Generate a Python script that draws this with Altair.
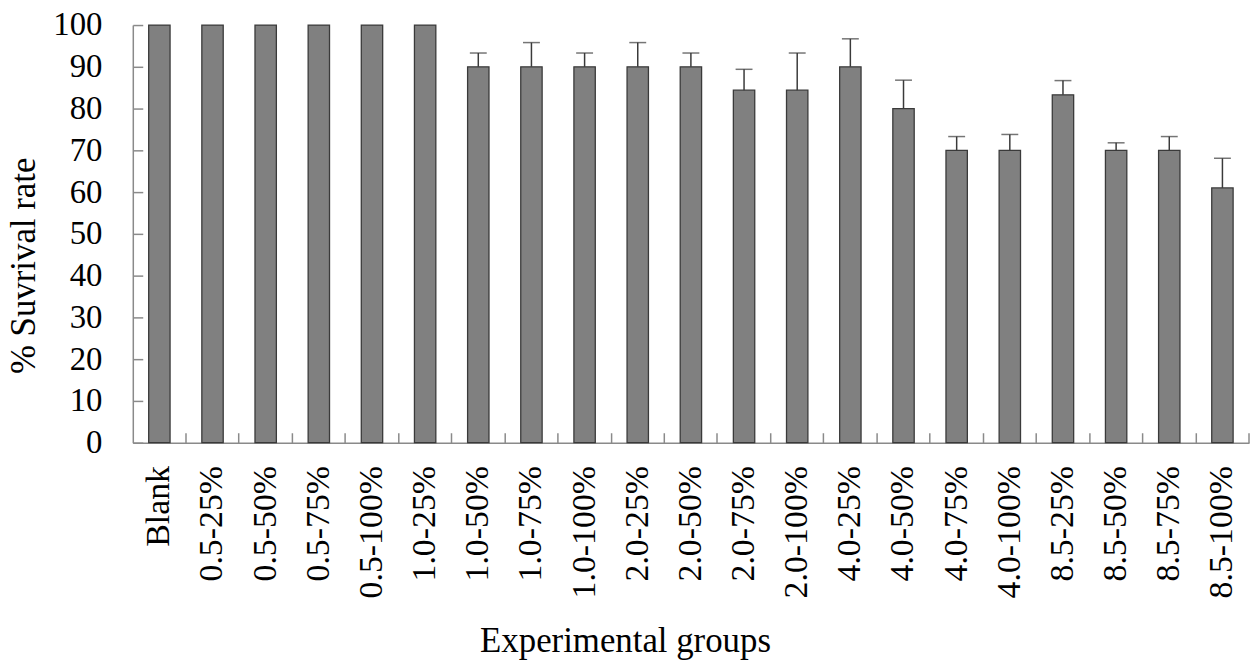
import altair as alt
import pandas as pd

groups = ["Blank", "0.5-25%", "0.5-50%", "0.5-75%", "0.5-100%", "1.0-25%",
          "1.0-50%", "1.0-75%", "1.0-100%", "2.0-25%", "2.0-50%", "2.0-75%",
          "2.0-100%", "4.0-25%", "4.0-50%", "4.0-75%", "4.0-100%", "8.5-25%",
          "8.5-50%", "8.5-75%", "8.5-100%"]
survival = [100, 100, 100, 100, 100, 100, 90, 90, 90, 90, 90, 84.4, 84.4,
            90, 80, 70, 70, 83.3, 70, 70, 61]
upper = [None, None, None, None, None, None, 93.3, 95.8, 93.3, 95.8, 93.3,
         89.4, 93.3, 96.7, 86.8, 73.3, 73.8, 86.7, 71.8, 73.3, 68.1]
y_ticks = [0, 10, 20, 30, 40, 50, 60, 70, 80, 90, 100]

df = pd.DataFrame({"group": groups, "survival": survival, "upper": upper})
err = df.dropna(subset=["upper"])

W, H = 1122.5, 420
FONT = "Liberation Serif"
AXIS_GRAY = "#8a8a8a"

xscale = alt.Scale(paddingInner=0, paddingOuter=0)
yscale = alt.Scale(domain=[0, 100], nice=False, zero=True)

bars = alt.Chart(df).mark_bar(size=21.5, color="#808080", stroke="#3a3a3a", strokeWidth=1.3).encode(
    x=alt.X("group:N", sort=groups, scale=xscale,
            axis=alt.Axis(orient="bottom", ticks=False, domainColor=AXIS_GRAY, domainWidth=1.5,
                          labelAngle=-90, labelAlign="right", labelBaseline="middle",
                          labelFont=FONT, labelFontSize=34, labelPadding=23, labelColor="black",
                          title="Experimental groups", titleFont=FONT, titleFontSize=35,
                          titleFontWeight="normal", titleColor="black",
                          titleX=495, titleY=209.7, titleBaseline="alphabetic", titleAlign="center",
                          grid=False)),
    y=alt.Y("survival:Q", scale=yscale,
            axis=alt.Axis(orient="left", ticks=False, domainColor=AXIS_GRAY, domainWidth=1.5,
                          values=y_ticks, labelFont=FONT, labelFontSize=33, labelPadding=31,
                          labelColor="black",
                          title="% Suvrival rate", titleFont=FONT, titleFontSize=35,
                          titleFontWeight="normal", titleColor="black",
                          titleX=-98.5, titleY=241.7, titleAngle=270, titleBaseline="alphabetic",
                          titleAlign="center", grid=False)),
)

rules = alt.Chart(err).mark_rule(color="#3a3a3a", strokeWidth=1.5).encode(
    x=alt.X("group:N", sort=groups, scale=xscale,
            axis=alt.Axis(orient="top", offset=-H, bandPosition=1, labels=False, domain=False,
                          tickSize=10, tickColor=AXIS_GRAY, tickWidth=1.5, title=None, grid=False)),
    y=alt.Y("survival:Q", scale=yscale,
            axis=alt.Axis(orient="right", offset=-W, values=y_ticks, labels=False, domain=False,
                          tickSize=10, tickColor=AXIS_GRAY, tickWidth=1.5, title=None, grid=False)),
    y2="upper:Q",
)

caps = alt.Chart(err).mark_tick(color="#3a3a3a", size=17, thickness=1.5).encode(
    x=alt.X("group:N", sort=groups, scale=xscale, axis=None),
    y=alt.Y("upper:Q", scale=yscale, axis=None),
)

chart = alt.layer(bars, rules, caps).resolve_axis(x="independent", y="independent").properties(
    width=W, height=H,
    autosize=alt.AutoSizeParams(type="none"),
    padding={"left": 125.5, "top": 15.3, "right": 1, "bottom": 217},
    background="white",
).configure_view(stroke=None)

chart.save("out.html", embed_options={"renderer": "svg", "actions": False})
